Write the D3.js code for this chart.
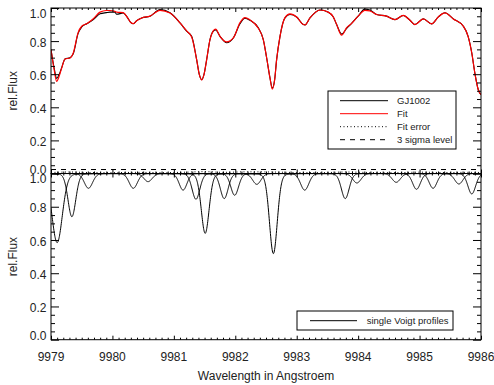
<!DOCTYPE html>
<html>
<head>
<meta charset="utf-8">
<script src="https://cdn.jsdelivr.net/npm/d3@7"></script>
<style>
  html, body { margin: 0; padding: 0; background: #fff; }
  svg { display: block; font-family: "Liberation Sans", Arial, Helvetica, sans-serif; }
</style>
</head>
<body>
<svg id="chart" width="494" height="385"></svg>
<script>
// Wavelength grid (Angstroem) of the observed spectrum and model fit
const wavelength = [
  9979.000, 9979.050, 9979.092, 9979.135, 9979.174, 9979.228, 9979.309, 9979.364,
  9979.440, 9979.500, 9979.581, 9979.689, 9979.798, 9979.900, 9979.960, 9980.040,
  9980.069, 9980.177, 9980.240, 9980.300, 9980.340, 9980.400, 9980.476, 9980.611,
  9980.774, 9980.937, 9981.100, 9981.208, 9981.290, 9981.371, 9981.415, 9981.453,
  9981.490, 9981.534, 9981.588, 9981.642, 9981.680, 9981.751, 9981.859, 9981.968,
  9982.077, 9982.158, 9982.239, 9982.375, 9982.456, 9982.511, 9982.565, 9982.603,
  9982.641, 9982.673, 9982.728, 9982.809, 9982.890, 9982.999, 9983.107, 9983.135,
  9983.216, 9983.379, 9983.514, 9983.596, 9983.650, 9983.731, 9983.810, 9983.890,
  9984.000, 9984.110, 9984.190, 9984.300, 9984.460, 9984.600, 9984.735, 9984.844,
  9984.925, 9985.061, 9985.196, 9985.305, 9985.413, 9985.549, 9985.712, 9985.790,
  9985.850, 9985.900, 9985.956, 9986.000
];
// Relative flux of GJ1002
const fluxGJ1002 = [
  0.749, 0.640, 0.575, 0.600, 0.640, 0.692, 0.700, 0.725,
  0.845, 0.885, 0.905, 0.930, 0.965, 0.972, 0.975, 0.975,
  0.962, 0.970, 0.945, 0.912, 0.905, 0.925, 0.940, 0.950,
  0.990, 0.971, 0.910, 0.860, 0.829, 0.688, 0.597, 0.567,
  0.597, 0.688, 0.809, 0.860, 0.868, 0.829, 0.790, 0.819,
  0.905, 0.938, 0.926, 0.880, 0.809, 0.698, 0.577, 0.516,
  0.567, 0.688, 0.829, 0.940, 0.961, 0.946, 0.900, 0.898,
  0.940, 0.988, 0.975, 0.946, 0.900, 0.842, 0.875, 0.906,
  0.951, 0.993, 0.988, 0.961, 0.951, 0.930, 0.955, 0.926,
  0.900, 0.934, 0.904, 0.946, 0.971, 0.934, 0.890, 0.829,
  0.728, 0.607, 0.506, 0.476
];
// Relative flux of the fit
const fluxFit = [
  0.749, 0.630, 0.557, 0.590, 0.637, 0.692, 0.698, 0.730,
  0.850, 0.890, 0.905, 0.935, 0.975, 0.985, 0.985, 0.980,
  0.975, 0.972, 0.945, 0.912, 0.905, 0.925, 0.940, 0.951,
  0.986, 0.970, 0.910, 0.862, 0.825, 0.688, 0.597, 0.565,
  0.597, 0.688, 0.809, 0.862, 0.872, 0.829, 0.795, 0.819,
  0.912, 0.942, 0.928, 0.878, 0.809, 0.698, 0.577, 0.510,
  0.567, 0.688, 0.829, 0.942, 0.965, 0.946, 0.900, 0.898,
  0.940, 0.988, 0.975, 0.946, 0.900, 0.836, 0.880, 0.906,
  0.951, 0.986, 0.983, 0.961, 0.951, 0.930, 0.955, 0.926,
  0.900, 0.934, 0.904, 0.946, 0.971, 0.934, 0.890, 0.829,
  0.728, 0.607, 0.506, 0.476
];
// Fit error along the spectrum
const errorWavelength = [9979.0, 9979.3, 9979.6, 9980.0, 9980.4, 9980.8, 9981.2, 9981.5, 9981.8, 9982.2,
                         9982.6, 9983.0, 9983.4, 9983.8, 9984.2, 9984.6, 9985.0, 9985.4, 9985.8, 9986.0];
const fitError = [0.006, 0.009, 0.006, 0.005, 0.007, 0.005, 0.008, 0.011, 0.007, 0.010,
                  0.009, 0.006, 0.005, 0.009, 0.006, 0.005, 0.008, 0.006, 0.007, 0.006];
const sigmaLevel3 = 0.024;

// Single Voigt line profiles: centre, depth and FWHM (Angstroem)
const lineCenter = [9979.10, 9979.34, 9979.61, 9980.34, 9980.58, 9981.15, 9981.36, 9981.51, 9981.82, 9981.99,
                    9982.35, 9982.62, 9983.13, 9983.79, 9983.98, 9984.62, 9984.95, 9985.22, 9985.64, 9985.85];
const lineDepth  = [0.416, 0.260, 0.089, 0.089, 0.049, 0.100, 0.155, 0.360, 0.151, 0.131,
                    0.065, 0.482, 0.100, 0.151, 0.057, 0.053, 0.095, 0.089, 0.063, 0.123];
const lineFwhm   = [0.20, 0.15, 0.16, 0.16, 0.16, 0.15, 0.15, 0.15, 0.15, 0.15,
                    0.16, 0.15, 0.16, 0.15, 0.16, 0.16, 0.15, 0.15, 0.16, 0.15];

const xTicks = [9979, 9980, 9981, 9982, 9983, 9984, 9985, 9986];
const yTicks = [0.0, 0.2, 0.4, 0.6, 0.8, 1.0];
const legendTop = ["GJ1002", "Fit", "Fit error", "3 sigma level"];
const legendBottom = ["single Voigt profiles"];

const svg = d3.select("#chart");
const left = 51, right = 481;
const panels = [
  { top: 8, bottom: 173.5 },
  { top: 173.5, bottom: 339.7 }
];
const x = d3.scaleLinear().domain([9979, 9986]).range([left, right]);
panels.forEach(p => { p.y = d3.scaleLinear().domain([0, 1]).range([p.bottom, p.top]); });

const defs = svg.append("defs");
panels.forEach((p, i) => {
  defs.append("clipPath").attr("id", "clip" + i)
    .append("rect").attr("x", left).attr("y", p.top)
    .attr("width", right - left).attr("height", p.bottom - p.top);
});

const minorX = d3.range(0, 71).map(i => 9979 + i * 0.1).filter(v => Math.abs(v - Math.round(v)) > 1e-6);
const minorY = d3.range(0, 21).map(i => i * 0.05).filter(v => Math.abs(v * 5 - Math.round(v * 5)) > 1e-6);

function drawFrame(p, showXLabels) {
  const g = svg.append("g");
  const axes = [
    [() => d3.axisBottom(x), `translate(0,${p.bottom})`, xTicks, minorX, 4, 2],
    [() => d3.axisTop(x), `translate(0,${p.top})`, xTicks, minorX, 4, 2],
    [() => d3.axisLeft(p.y), `translate(${left},0)`, yTicks, minorY, 8, 4],
    [() => d3.axisRight(p.y), `translate(${right},0)`, yTicks, minorY, 8, 4]
  ];
  axes.forEach(([make, tr, major, minor, lMaj, lMin]) => {
    [[major, lMaj], [minor, lMin]].forEach(([vals, len]) => {
      g.append("g").attr("transform", tr)
        .call(make().tickValues(vals).tickSize(-len).tickFormat(""))
        .call(s => s.select(".domain").remove())
        .selectAll("line").attr("stroke", "#000").attr("stroke-width", 1);
    });
  });
  g.append("rect").attr("x", left).attr("y", p.top)
    .attr("width", right - left).attr("height", p.bottom - p.top)
    .attr("fill", "none").attr("stroke", "#000").attr("stroke-width", 1);

  // y tick labels; the end labels are kept inside the panel
  g.selectAll("text.ylab").data(yTicks).join("text")
    .attr("class", "ylab")
    .attr("x", left - 4.5)
    .attr("y", d => p.y(d) + (d === 1 ? 9.8 : d === 0 ? 0.6 : 5.6))
    .attr("text-anchor", "end").attr("font-size", 12).attr("fill", "#222")
    .text(d => d3.format(".1f")(d));

  // y axis title
  g.append("text")
    .attr("transform", `translate(17.3,${(p.top + p.bottom) / 2}) rotate(-90)`)
    .attr("text-anchor", "middle").attr("font-size", 12).attr("fill", "#222")
    .text("rel.Flux");

  if (showXLabels) {
    g.selectAll("text.xlab").data(xTicks).join("text")
      .attr("class", "xlab")
      .attr("x", d => x(d)).attr("y", 361)
      .attr("text-anchor", "middle").attr("font-size", 12).attr("fill", "#222")
      .text(d => d);
  }
}

// ---- Upper panel: spectrum and fit ----
const pt = panels[0];
const lineTop = d3.line().x(d => x(d[0])).y(d => pt.y(d[1])).curve(d3.curveMonotoneX);
const gTop = svg.append("g").attr("clip-path", "url(#clip0)");

gTop.append("line")
  .attr("x1", left).attr("x2", right)
  .attr("y1", pt.y(sigmaLevel3)).attr("y2", pt.y(sigmaLevel3))
  .attr("stroke", "#000").attr("stroke-width", 1).attr("stroke-dasharray", "5,5");
gTop.append("path")
  .attr("d", lineTop(errorWavelength.map((w, i) => [w, fitError[i]])))
  .attr("fill", "none").attr("stroke", "#000").attr("stroke-width", 1).attr("stroke-dasharray", "1,2.5");
gTop.append("path")
  .attr("d", lineTop(wavelength.map((w, i) => [w, fluxGJ1002[i]])))
  .attr("fill", "none").attr("stroke", "#000").attr("stroke-width", 1.1);
gTop.append("path")
  .attr("d", lineTop(wavelength.map((w, i) => [w, fluxFit[i]])))
  .attr("fill", "none").attr("stroke", "#ff0000").attr("stroke-width", 1.2);

// ---- Lower panel: single Voigt profiles (pseudo-Voigt approximation) ----
const pb = panels[1];
function voigt(w, c, depth, fwhm) {
  const eta = 0.1;
  const sigma = fwhm / 2.3548, gamma = fwhm / 2, dx = w - c;
  const gauss = Math.exp(-dx * dx / (2 * sigma * sigma));
  const lor = 1 / (1 + (dx / gamma) * (dx / gamma));
  return 1 - depth * ((1 - eta) * gauss + eta * lor);
}
const grid = d3.range(9979, 9986.0001, 0.004);
const lineBot = d3.line().x(d => x(d[0])).y(d => pb.y(d[1]));
const gBot = svg.append("g").attr("clip-path", "url(#clip1)");
lineCenter.forEach((c, i) => {
  gBot.append("path")
    .attr("d", lineBot(grid.map(w => [w, voigt(w, c, lineDepth[i], lineFwhm[i])])))
    .attr("fill", "none").attr("stroke", "#000").attr("stroke-width", 1);
});

drawFrame(panels[0], false);
drawFrame(panels[1], true);

// x axis title
svg.append("text").attr("x", (left + right) / 2).attr("y", 379.5)
  .attr("text-anchor", "middle").attr("font-size", 12).attr("fill", "#222")
  .text("Wavelength in Angstroem");

// ---- Legends ----
const legStyles = [
  { stroke: "#000", dash: null },
  { stroke: "#ff0000", dash: null },
  { stroke: "#000", dash: "1,2.5" },
  { stroke: "#000", dash: "5,5" }
];
const lg = svg.append("g");
lg.append("rect").attr("x", 328).attr("y", 91).attr("width", 128).attr("height", 58)
  .attr("fill", "#fff").attr("stroke", "#000").attr("stroke-width", 1);
legendTop.forEach((t, i) => {
  const yy = 100.7 + i * 13;
  lg.append("line").attr("x1", 340).attr("x2", 388).attr("y1", yy).attr("y2", yy)
    .attr("stroke", legStyles[i].stroke).attr("stroke-width", 1)
    .attr("stroke-dasharray", legStyles[i].dash);
  lg.append("text").attr("x", 397).attr("y", yy + 3.4)
    .attr("font-size", 9.5).attr("fill", "#222").text(t);
});

const lb = svg.append("g");
lb.append("rect").attr("x", 297).attr("y", 311).attr("width", 156).attr("height", 19)
  .attr("fill", "#fff").attr("stroke", "#000").attr("stroke-width", 1);
legendBottom.forEach((t, i) => {
  const yy = 320.7;
  lb.append("line").attr("x1", 310).attr("x2", 357).attr("y1", yy).attr("y2", yy)
    .attr("stroke", "#000").attr("stroke-width", 1);
  lb.append("text").attr("x", 366.7).attr("y", yy + 3.4)
    .attr("font-size", 9.5).attr("fill", "#222").text(t);
});
</script>
</body>
</html>
